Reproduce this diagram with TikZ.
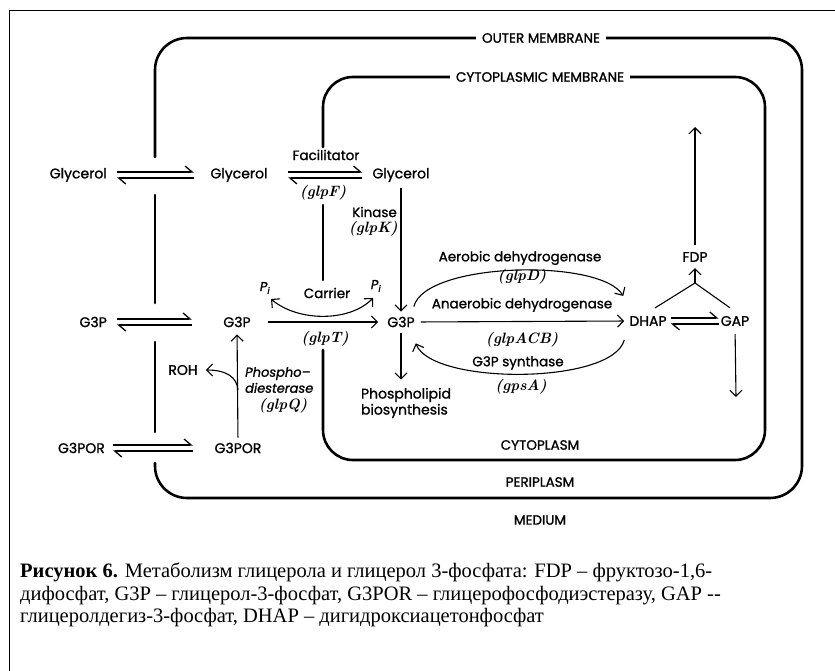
\documentclass[tikz,border=0pt]{standalone}
\usepackage{fontspec}
\setmainfont{Liberation Serif}
\newfontfamily\lblfont{Poppins}[FakeBold=1.2]
\newfontfamily\genefont{Latin Modern Roman}
\usetikzlibrary{arrows.meta}

\begin{document}
\begin{tikzpicture}[
        x=1pt, y=-1pt,
        compound/.style={font=\lblfont\fontsize{14}{16}\selectfont, inner sep=0pt},
        enzyme/.style={font=\lblfont\fontsize{13.5}{15}\selectfont, inner sep=0pt},
        gene/.style={font=\genefont\fontsize{15}{17}\selectfont\bfseries\itshape, inner sep=0pt},
        region/.style={font=\lblfont\fontsize{13.5}{15}\selectfont, inner sep=0pt},
        memlabel/.style={region, fill=white, inner xsep=6pt, inner ysep=3pt},
        membrane/.style={line width=2.6pt, line cap=round},
        rxn/.style={line width=1.1pt, -{Straight Barb[length=6pt, width=12pt]}},
        eqarrow/.style={line width=1.3pt, -{Straight Barb[harpoon, length=7pt, width=12pt]}},
    ]
    \useasboundingbox (0,0) rectangle (835,671);

    % page frame
    \draw[line width=0.9pt] (9,671) -- (9,10) -- (835,10);

    % membranes
    \draw[membrane, rounded corners=32pt] (155,463) -- (155,498) -- (802,498) -- (802,38) -- (155,38) -- (155,157);
    \draw[membrane] (155,195) -- (155,303);
    \draw[membrane] (155,342) -- (155,432);
    \draw[membrane, rounded corners=30pt] (323,350) -- (323,460) -- (765,460) -- (765,77) -- (323,77) -- (323,147);
    \draw[membrane] (323,205) -- (323,280);

    \node[memlabel] (outerLbl) at (541,38) {OUTER MEMBRANE};
    \node[memlabel] (cytoLbl) at (540,77) {CYTOPLASMIC MEMBRANE};
    \node[region] (cytoplasm) at (540,445) {CYTOPLASM};
    \node[region] (periplasm) at (540,482) {PERIPLASM};
    \node[region] (medium) at (540,520) {MEDIUM};

    % medium
    \node[compound, anchor=east] (glyM) at (107,175) {Glycerol};
    \node[compound, anchor=east] (g3pM) at (107,322) {G3P};
    \node[compound, anchor=east] (g3porM) at (105,448) {G3POR};

    % periplasm
    \node[compound, minimum width=58pt] (glyP) at (239,175) {Glycerol};
    \node[compound, minimum width=58pt] (g3pP) at (237,322) {G3P};
    \node[compound, minimum width=58pt] (g3porP) at (238,448) {G3POR};
    \node[compound] (roh) at (183,370) {ROH};

    % cytoplasm
    \node[compound] (glyC) at (401,175) {Glycerol};
    \node[compound] (g3pC) at (401,322) {G3P};
    \node[compound] (dhap) at (648,321) {DHAP};
    \node[compound] (gap) at (735,321) {GAP};
    \node[compound] (fdp) at (695,257) {FDP};
    \node[compound, align=left] (phos) at (406,403) {Phospholipid\\biosynthesis};

    % enzymes and genes
    \node[enzyme] (facil) at (326,155) {Facilitator};
    \node[gene] (glpF) at (323,193) {(glpF)};
    \node[enzyme, anchor=east] (kinase) at (397,212) {Kinase};
    \node[gene, anchor=east] (glpK) at (398,229) {(glpK)};
    \node[enzyme] (carrier) at (327,293) {Carrier};
    \node[enzyme, font=\lblfont\itshape\fontsize{13}{15}\selectfont] (piL) at (265,288) {P\textsubscript{i}};
    \node[enzyme, font=\lblfont\itshape\fontsize{13}{15}\selectfont] (piR) at (376,286) {P\textsubscript{i}};
    \node[gene] (glpT) at (325,339) {(glpT)};
    \node[enzyme, anchor=west, align=left, font=\lblfont\itshape\fontsize{13}{16}\selectfont] (pdiest) at (245,380) {Phospho–\\diesterase};
    \node[gene] (glpQ) at (283,406) {(glpQ)};
    \node[enzyme] (aerob) at (520,258) {Aerobic dehydrogenase};
    \node[gene] (glpD) at (522,277) {(glpD)};
    \node[enzyme] (synth) at (518,363) {G3P synthase};
    \node[gene] (gpsA) at (521,387) {(gpsA)};

    % exchange across the membranes
    \draw[eqarrow, shorten <=10pt, shorten >=16pt] ([yshift=3pt]glyM.east) -- ([yshift=3pt]glyP.west);
    \draw[eqarrow, shorten <=16pt, shorten >=10pt] ([yshift=-3pt]glyP.west) -- ([yshift=-3pt]glyM.east);
    \draw[eqarrow, shorten <=10pt, shorten >=16pt] ([yshift=3pt]g3pM.east) -- ([yshift=3pt]g3pP.west);
    \draw[eqarrow, shorten <=16pt, shorten >=10pt] ([yshift=-3pt]g3pP.west) -- ([yshift=-3pt]g3pM.east);
    \draw[eqarrow, shorten <=8pt, shorten >=16pt] ([yshift=3pt]g3porM.east) -- ([yshift=3pt]g3porP.west);
    \draw[eqarrow, shorten <=16pt, shorten >=8pt] ([yshift=-3pt]g3porP.west) -- ([yshift=-3pt]g3porM.east);
    \draw[eqarrow, shorten <=20pt, shorten >=10pt] ([yshift=3pt]glyP.east) -- ([yshift=3pt]glyC.west);
    \draw[eqarrow, shorten <=10pt, shorten >=20pt] ([yshift=-3pt]glyC.west) -- ([yshift=-3pt]glyP.east);

    % carrier and phosphodiesterase
    \draw[rxn, shorten <=2pt, shorten >=9pt] (g3pP.east) -- (g3pC.west);
    \draw[line width=1.1pt, {Straight Barb[length=6pt, width=12pt]}-{Straight Barb[length=6pt, width=12pt]}]
        ([shift={(6pt,-11pt)}]piL.center) .. controls (298,322) and (350,322) .. ([shift={(-3pt,-12pt)}]piR.center);
    \draw[rxn, shorten <=5pt, shorten >=7pt] (g3porP.north) -- (g3pP.south);
    \coordinate (branch) at (238,390);
    \draw[rxn, shorten >=8pt] (branch) .. controls (237,377) and (226,370) .. (roh.east);

    % cytoplasm reactions
    \draw[rxn, shorten <=6pt, shorten >=5pt] (glyC.south) -- (g3pC.north);
    \draw[rxn, shorten <=6pt, shorten >=8pt] (g3pC.south) -- (g3pC.south |- phos.north);
    \draw[rxn] ([shift={(-1pt,10pt)}]g3pC.north east) .. controls (425,262) and (600,258) .. ([shift={(-6pt,20pt)}]dhap.north west);
    \draw[rxn, shorten <=6pt, shorten >=5pt] (g3pC.east) -- (dhap.west)
        node[enzyme, midway, above=9pt] (anaerob) {Anaerobic dehydrogenase}
        node[gene, midway, below=10pt] (glpACB) {(glpACB)};
    \draw[rxn] ([shift={(-5pt,-14pt)}]dhap.south west) .. controls (612,385) and (432,385) .. ([shift={(1pt,-16pt)}]g3pC.south east);
    \draw[eqarrow, shorten <=4pt, shorten >=2pt] ([yshift=3pt]dhap.east) -- ([yshift=3pt]gap.west);
    \draw[eqarrow, shorten <=2pt, shorten >=4pt] ([yshift=-3pt]gap.west) -- ([yshift=-3pt]dhap.east);

    \coordinate (apex) at (695,283);
    \coordinate (toTop) at (695,127);
    \coordinate (gapOut) at (736,397);
    \draw[line width=1.1pt] ([shift={(7pt,8pt)}]dhap.north) -- (apex) -- ([shift={(-5pt,8pt)}]gap.north);
    \draw[rxn, shorten >=6pt] (apex) -- (fdp.south);
    \draw[rxn, shorten <=7pt] (fdp.north) -- (toTop);
    \draw[rxn, shorten <=8pt] (gap.south) -- (gapOut);

    % caption
    \node[anchor=west, align=left, inner sep=0pt, font=\fontsize{20.5}{22.5}\selectfont] (caption) at (20,595)
        {\textbf{Рисунок 6.} Метаболизм глицерола и глицерол 3-фосфата: FDP – фруктозо-1,6-\\
         дифосфат, G3P – глицерол-3-фосфат, G3POR – глицерофосфодиэстеразу, GAP -{}-\\
         глицеролдегиз-3-фосфат, DHAP – дигидроксиацетонфосфат};

\end{tikzpicture}
\end{document}
